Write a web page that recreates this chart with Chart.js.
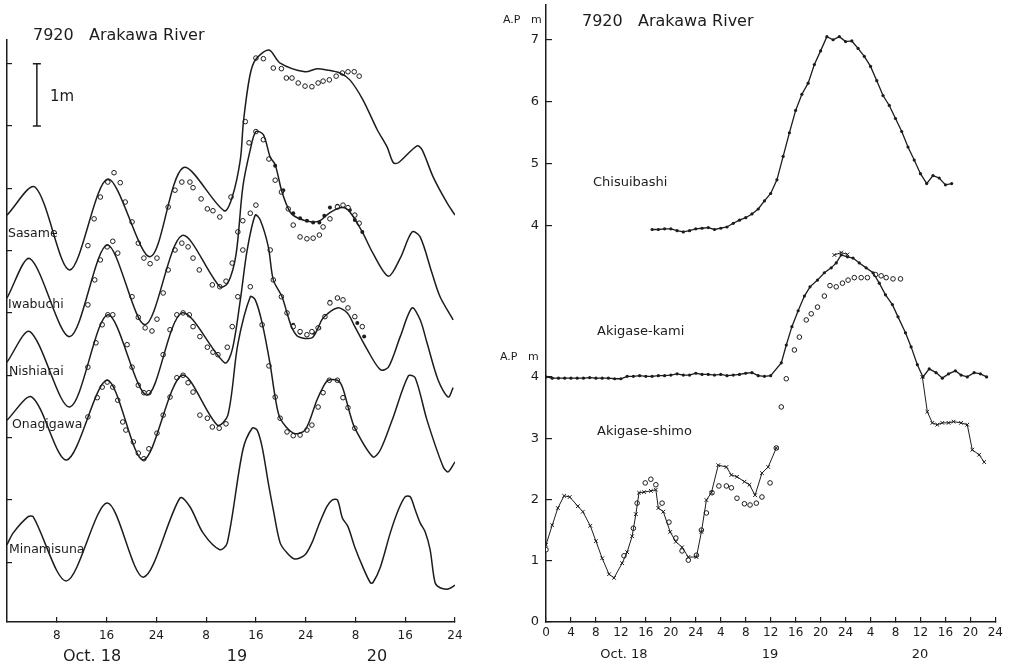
<!DOCTYPE html>
<html>
<head>
<meta charset="utf-8">
<script src="https://cdn.jsdelivr.net/npm/chart.js@4"></script>
<style>
  body { margin: 0; background: #fff; }
  canvas { position: absolute; top: 0; }
  #left { left: 0; }
  #right { left: 490px; }
</style>
</head>
<body>
<canvas id="left" width="480" height="666"></canvas>
<canvas id="right" width="522" height="666"></canvas>
<script>
// ---- left panel: hours from Oct.18 0h, relative stage in m ----
const sasameH = [0, 4.5, 10.1, 16.2, 23, 28.3, 34.9, 36.2, 37.5, 38, 39, 39.9, 42.1, 43.9, 47.9, 49.8, 51.4, 53.5, 55.1, 57.2, 59.5, 61.1, 62.1, 62.9, 65.9, 66.7, 68.5, 70.7, 72];
const sasameLine = [6.57, 7.02, 5.69, 7.15, 5.90, 7.33, 6.64, 6.86, 7.46, 8.07, 8.79, 9.06, 9.22, 9.01, 8.87, 8.92, 8.90, 8.85, 8.74, 8.42, 7.94, 7.66, 7.41, 7.41, 7.68, 7.62, 7.18, 6.77, 6.57];
const sasameObsH = [13, 14, 15, 16.2, 17.2, 18.2, 19, 20.1, 21.1, 22, 23, 24.1, 25.9, 27, 28.1, 29.4, 29.9, 31.2, 32.2, 33.1, 34.2, 36, 38.3, 40, 41.2, 42.8, 44.1, 44.9, 45.8, 46.8, 47.9, 49, 50, 50.8, 51.8, 52.9, 53.9, 54.8, 55.8, 56.6];
const sasameObs = [6.08, 6.51, 6.86, 7.10, 7.25, 7.09, 6.78, 6.46, 6.12, 5.88, 5.79, 5.88, 6.70, 6.97, 7.10, 7.10, 7.01, 6.83, 6.67, 6.64, 6.54, 6.86, 8.07, 9.09, 9.08, 8.93, 8.92, 8.77, 8.77, 8.69, 8.64, 8.63, 8.69, 8.72, 8.74, 8.80, 8.85, 8.87, 8.87, 8.80];

const iwabuchiH = [0, 3.7, 10.1, 16.1, 22.2, 28.1, 34.2, 35.5, 36.8, 37.9, 39.1, 40, 41.2, 42.3, 43.1, 44.2, 45.5, 46.8, 49, 50.3, 51.9, 53.9, 55.1, 57.1, 58.8, 61.3, 63.2, 65.1, 66.4, 68.3, 69.6, 71.7];
const iwabuchiLine = [5.24, 5.87, 4.62, 6.09, 4.81, 6.24, 5.42, 5.48, 5.93, 7.02, 7.62, 7.91, 7.86, 7.50, 7.38, 6.94, 6.62, 6.52, 6.46, 6.48, 6.61, 6.69, 6.62, 6.30, 5.96, 5.59, 5.88, 6.30, 6.22, 5.64, 5.26, 4.89];
const iwabuchiObsH = [13, 14.1, 15, 16.1, 17, 17.8, 20.1, 21.1, 22.2, 23.3, 24.1, 25.1, 25.9, 27, 28.1, 29.1, 29.9, 30.9, 33, 34.2, 35.2, 36.2, 37.1, 37.9, 38.9, 40, 41.2, 42.1, 43.1, 44.1, 45.2, 46, 47.1, 48.2, 49.2, 50.2, 50.8, 51.9, 53.1, 54, 54.8, 55.9, 56.6];
const iwabuchiObs = [5.13, 5.53, 5.85, 6.06, 6.15, 5.96, 5.26, 4.93, 4.76, 4.71, 4.90, 5.32, 5.69, 6.01, 6.12, 6.06, 5.88, 5.69, 5.45, 5.42, 5.51, 5.80, 6.30, 6.48, 7.73, 7.91, 7.78, 7.47, 7.13, 6.94, 6.67, 6.41, 6.22, 6.19, 6.20, 6.25, 6.38, 6.51, 6.70, 6.73, 6.69, 6.57, 6.44];
const iwabuchiDotH = [43.1, 44.4, 46, 47.1, 48.2, 49.2, 50.2, 51, 51.9, 53.1, 54, 55.1, 55.9, 57.1];
const iwabuchiDot = [7.36, 6.97, 6.60, 6.52, 6.48, 6.45, 6.45, 6.56, 6.69, 6.72, 6.73, 6.65, 6.49, 6.30];

const nishiaraiH = [0, 3.7, 10.1, 16.2, 22.5, 28.1, 35, 36.2, 37.5, 38.6, 39.9, 40.7, 42, 42.8, 44.2, 45, 45.8, 46.8, 49, 50, 50.8, 53.1, 54.7, 55.9, 57.9, 60, 61.3, 63.2, 65.1, 66.4, 67.5, 69.3, 70.9, 71.7];
const nishiaraiLine = [4.21, 4.70, 3.49, 4.97, 3.68, 5.00, 4.20, 4.41, 5.21, 6.01, 6.57, 6.49, 6.06, 5.53, 5.26, 5.00, 4.76, 4.62, 4.60, 4.76, 4.92, 5.08, 5.00, 4.78, 4.41, 4.09, 4.13, 4.62, 5.08, 4.89, 4.52, 3.92, 3.65, 3.80];
const nishiaraiObsH = [13, 14.3, 15.3, 16.2, 17, 19.3, 20.1, 21.1, 22, 22.8, 25.1, 26.2, 27.3, 28.3, 29.3, 29.9, 31, 32.2, 33.1, 33.9, 35.4, 36.2, 37.1, 37.9, 39.1, 40, 42.3, 42.8, 44.1, 45, 46, 47.1, 48.2, 49, 50, 51.1, 51.9, 53.1, 54, 54.8, 55.9, 57.1];
const nishiaraiObs = [4.13, 4.52, 4.81, 4.97, 4.97, 4.49, 4.13, 3.84, 3.72, 3.72, 4.33, 4.73, 4.97, 5.00, 4.97, 4.78, 4.62, 4.45, 4.37, 4.33, 4.45, 4.78, 5.26, 6.01, 6.60, 6.73, 6.01, 5.53, 5.26, 5.00, 4.78, 4.70, 4.65, 4.70, 4.76, 4.94, 5.16, 5.24, 5.21, 5.08, 4.94, 4.78];
const nishiaraiDotH = [46, 47.1, 48.2, 49.2, 50.2, 51.9, 53.1, 56.3, 57.4];
const nishiaraiDot = [4.81, 4.68, 4.65, 4.68, 4.76, 5.18, 5.24, 4.84, 4.62];

const onagigawaH = [0, 4, 9.6, 16.1, 21.9, 28.1, 33.8, 35.5, 37.1, 39.1, 39.9, 41, 42.3, 43.1, 43.9, 46, 47.9, 49.8, 50.8, 51.6, 53.1, 53.9, 55.1, 55.9, 58.8, 60, 61.9, 64.5, 65.6, 67.5, 70.1, 70.9, 72];
const onagigawaLine = [3.28, 3.65, 2.64, 3.92, 2.64, 4.00, 3.20, 3.36, 4.50, 5.26, 5.21, 4.84, 4.17, 3.65, 3.31, 3.07, 3.12, 3.60, 3.81, 3.92, 3.92, 3.81, 3.39, 3.15, 2.69, 2.80, 3.28, 3.99, 3.96, 3.28, 2.53, 2.45, 2.61];
const onagigawaObsH = [13, 14.5, 15.3, 16.1, 17, 17.8, 18.6, 19.1, 20.3, 21.1, 22, 22.8, 24.1, 25.1, 26.2, 27.3, 28.3, 29.1, 29.9, 31, 32.2, 33, 34.1, 35.2, 39.1, 41, 42.1, 43.1, 43.9, 45, 46, 47.1, 48.2, 49, 50, 50.8, 51.8, 53.1, 54, 54.8, 55.9];
const onagigawaObs = [3.33, 3.64, 3.81, 3.89, 3.81, 3.60, 3.25, 3.12, 2.93, 2.75, 2.66, 2.82, 3.07, 3.36, 3.65, 3.96, 4.00, 3.88, 3.73, 3.36, 3.31, 3.17, 3.15, 3.22, 5.42, 4.81, 4.15, 3.65, 3.31, 3.09, 3.03, 3.04, 3.12, 3.20, 3.49, 3.72, 3.92, 3.92, 3.64, 3.48, 3.15];

const minamisunaH = [0, 1, 3.4, 4.2, 9.6, 16.1, 21.9, 27.8, 29.4, 31.5, 34.2, 35.4, 37.9, 39.4, 40.2, 41, 42, 42.8, 43.9, 45, 46.3, 47.9, 49, 50, 51.4, 52.3, 53.1, 53.9, 54.8, 55.9, 57.2, 58.4, 58.8, 60, 61.6, 62.9, 64, 64.8, 65.6, 66.4, 67.2, 68, 68.8, 69.6, 70.9, 72];
const minamisunaLine = [1.28, 1.47, 1.73, 1.73, 0.70, 1.95, 0.76, 2.03, 1.89, 1.47, 1.20, 1.31, 2.80, 3.15, 3.12, 2.85, 2.27, 1.84, 1.31, 1.15, 1.05, 1.12, 1.31, 1.57, 1.89, 2.00, 2.00, 1.71, 1.57, 1.24, 0.92, 0.67, 0.67, 0.92, 1.47, 1.84, 2.05, 2.05, 1.84, 1.63, 1.49, 1.20, 0.67, 0.59, 0.57, 0.63];

const leftTicks = [8, 16, 24, 32, 40, 48, 56, 64, 72];
const leftLevelTicks = [1, 2, 3, 4, 5, 6, 7, 8, 9];

// ---- right panel: hours from Oct.18 0h, A.P. m ----
const chisuiH = [17, 18, 19, 20, 21, 22, 23, 24, 25, 26, 27, 28, 29, 30, 31, 32, 33, 34, 35, 36, 37, 38, 39, 40, 41, 42, 43, 44, 45, 46, 47, 48, 49, 50, 51, 52, 53, 54, 55, 56, 57, 58, 59, 60, 61, 62, 63, 64, 65];
const chisui = [3.94, 3.94, 3.95, 3.95, 3.92, 3.90, 3.92, 3.95, 3.96, 3.97, 3.94, 3.96, 3.98, 4.04, 4.09, 4.13, 4.19, 4.27, 4.40, 4.52, 4.74, 5.12, 5.50, 5.86, 6.12, 6.30, 6.60, 6.82, 7.05, 7.00, 7.05, 6.97, 6.98, 6.86, 6.73, 6.57, 6.34, 6.10, 5.94, 5.73, 5.52, 5.27, 5.06, 4.84, 4.68, 4.81, 4.77, 4.66, 4.68];

const kamiH = [0, 1, 2, 3, 4, 5, 6, 7, 8, 9, 10, 11, 12, 13, 14, 15, 16, 17, 18, 19, 20, 21, 22, 23, 24, 25, 26, 27, 28, 29, 30, 31, 32, 33, 34, 35, 36, 37.7, 38.5, 39.4, 40.4, 41.4, 42.3, 43.5, 44.6, 45.7, 46.5, 47.3, 48.3, 49.2, 50.2, 51.3, 52.4, 53.4, 54.4, 55.5, 56.4, 57.6, 58.5, 59.5, 60.4, 61.4, 62.5, 63.5, 64.5, 65.6, 66.5, 67.5, 68.6, 69.6, 70.6];
const kami = [4.00, 3.98, 3.98, 3.98, 3.98, 3.98, 3.98, 3.99, 3.98, 3.98, 3.98, 3.97, 3.97, 4.01, 4.01, 4.02, 4.01, 4.01, 4.02, 4.02, 4.03, 4.05, 4.03, 4.03, 4.06, 4.04, 4.04, 4.03, 4.04, 4.02, 4.03, 4.04, 4.06, 4.07, 4.02, 4.01, 4.02, 4.23, 4.52, 4.82, 5.08, 5.32, 5.47, 5.58, 5.70, 5.78, 5.86, 5.99, 5.96, 5.94, 5.86, 5.78, 5.70, 5.53, 5.34, 5.18, 4.98, 4.72, 4.49, 4.20, 4.00, 4.13, 4.07, 3.98, 4.05, 4.10, 4.03, 4.00, 4.07, 4.05, 4.00];
const kamiObsH = [37.7, 38.5, 39.8, 40.6, 41.7, 42.5, 43.5, 44.6, 45.5, 46.5, 47.5, 48.4, 49.4, 50.5, 51.5, 52.8, 53.7, 54.5, 55.6, 56.8];
const kamiObs = [3.51, 3.97, 4.44, 4.65, 4.93, 5.03, 5.14, 5.32, 5.49, 5.47, 5.53, 5.58, 5.62, 5.62, 5.62, 5.67, 5.65, 5.62, 5.60, 5.60];

const shimoH = [0, 1, 1.9, 2.9, 3.8, 5.1, 5.9, 7.1, 8, 9, 10.1, 10.9, 12.2, 13, 13.8, 14.4, 14.9, 15.7, 16.8, 17.6, 18, 18.8, 19.9, 20.8, 21.8, 22.8, 24.1, 24.9, 25.7, 26.5, 27.6, 28.9, 29.7, 30.6, 31.8, 32.6, 33.5, 34.6, 35.6, 36.9, 42, 46.2, 47.3, 48.3, 54, 60.3, 61.1, 61.9, 62.7, 63.5, 64.5, 65.3, 66.5, 67.5, 68.3, 69.4, 70.2];
const shimo = [1.26, 1.58, 1.86, 2.06, 2.04, 1.89, 1.80, 1.57, 1.32, 1.04, 0.78, 0.72, 0.96, 1.14, 1.40, 1.76, 2.11, 2.12, 2.14, 2.16, 1.86, 1.80, 1.47, 1.31, 1.22, 1.06, 1.06, 1.47, 1.99, 2.11, 2.56, 2.53, 2.40, 2.37, 2.29, 2.24, 2.07, 2.43, 2.53, 2.84, null, 5.99, 6.03, 6.00, null, 4.00, 3.43, 3.25, 3.22, 3.25, 3.25, 3.27, 3.25, 3.22, 2.81, 2.73, 2.61];
const shimoObsH = [0, 12.5, 14, 14.6, 15.9, 16.8, 17.6, 18.6, 19.7, 20.8, 21.8, 22.8, 24.1, 24.9, 25.7, 26.6, 27.7, 28.9, 29.7, 30.6, 31.8, 32.7, 33.7, 34.6, 35.9, 36.9];
const shimoObs = [1.18, 1.08, 1.53, 1.94, 2.27, 2.33, 2.24, 1.94, 1.63, 1.37, 1.16, 1.01, 1.09, 1.50, 1.78, 2.11, 2.22, 2.22, 2.19, 2.02, 1.93, 1.91, 1.94, 2.04, 2.27, 2.84];

const rightTicks = [0, 4, 8, 12, 16, 20, 24, 28, 32, 36, 40, 44, 48, 52, 56, 60, 64, 68, 72];
const lowerLevelTicks = [0, 1, 2, 3, 4];
const upperLevelTicks = [4, 5, 6, 7];

// ---- helpers ----
const FONT = '"DejaVu Sans", sans-serif';
const INK = '#1c1c1c';
const pts = (xs, ys) => xs.map((x, i) => ({ x: x, y: ys[i] }));
const hourLabel = v => (v === 0 ? '0' : String(v % 24 === 0 ? 24 : v % 24));

function lineSet(xs, ys, extra) {
  return Object.assign({
    data: pts(xs, ys), showLine: true, borderColor: INK, borderWidth: 1.5,
    pointRadius: 0, tension: 0.3
  }, extra || {});
}
function openSet(xs, ys) {
  return { data: pts(xs, ys), showLine: false, pointRadius: 2.3, pointBorderWidth: 1,
    pointBorderColor: INK, pointBackgroundColor: '#fff' };
}
function dotSet(xs, ys) {
  return { data: pts(xs, ys), showLine: false, pointRadius: 2, pointBorderWidth: 0,
    pointBackgroundColor: INK };
}

const notesPlugin = {
  id: 'notes',
  afterDraw(chart, args, opts) {
    const ctx = chart.ctx;
    ctx.save();
    ctx.fillStyle = INK;
    ctx.textBaseline = 'middle';
    (opts.items || []).forEach(t => {
      ctx.font = t.size + 'px ' + FONT;
      ctx.textAlign = t.align || 'left';
      ctx.fillText(t.text, t.left, t.top);
    });
    if (opts.bar) {
      const x = chart.scales.x.getPixelForValue(opts.bar.at);
      const y1 = chart.scales.y.getPixelForValue(opts.bar.from);
      const y2 = chart.scales.y.getPixelForValue(opts.bar.to);
      ctx.strokeStyle = INK;
      ctx.lineWidth = 1.5;
      ctx.beginPath();
      ctx.moveTo(x, y1); ctx.lineTo(x, y2);
      ctx.moveTo(x - 4, y1); ctx.lineTo(x + 4, y1);
      ctx.moveTo(x - 4, y2); ctx.lineTo(x + 4, y2);
      ctx.stroke();
    }
    ctx.restore();
  }
};

const axisGrid = { drawOnChartArea: false, drawTicks: true, tickLength: -5, color: INK, lineWidth: 1.2 };
const axisBorder = { color: INK, width: 1.5 };

// ---- left chart ----
new Chart(document.getElementById('left'), {
  type: 'scatter',
  data: {
    datasets: [
      lineSet(sasameH, sasameLine), openSet(sasameObsH, sasameObs),
      lineSet(iwabuchiH, iwabuchiLine), openSet(iwabuchiObsH, iwabuchiObs), dotSet(iwabuchiDotH, iwabuchiDot),
      lineSet(nishiaraiH, nishiaraiLine), openSet(nishiaraiObsH, nishiaraiObs), dotSet(nishiaraiDotH, nishiaraiDot),
      lineSet(onagigawaH, onagigawaLine), openSet(onagigawaObsH, onagigawaObs),
      lineSet(minamisunaH, minamisunaLine)
    ]
  },
  plugins: [notesPlugin],
  options: {
    responsive: false, animation: false, events: [],
    layout: { padding: { top: 40, right: 25, bottom: 0, left: 0 } },
    plugins: {
      legend: { display: false }, tooltip: { enabled: false },
      notes: {
        bar: { at: 4.8, from: 9, to: 8 },
        items: [
          { text: '7920   Arakawa River', left: 33, top: 36, size: 16 },
          { text: '1m', left: 50, top: 97, size: 15 },
          { text: 'Sasame', left: 8, top: 234, size: 12.5 },
          { text: 'Iwabuchi', left: 8, top: 305, size: 12.5 },
          { text: 'Nishiarai', left: 9, top: 372, size: 12.5 },
          { text: 'Onagigawa', left: 12, top: 425, size: 12.5 },
          { text: 'Minamisuna', left: 9, top: 550, size: 12.5 },
          { text: 'Oct. 18', left: 92, top: 657, size: 16, align: 'center' },
          { text: '19', left: 237, top: 657, size: 16, align: 'center' },
          { text: '20', left: 377, top: 657, size: 16, align: 'center' }
        ]
      }
    },
    scales: {
      x: {
        type: 'linear', min: 0, max: 72,
        afterBuildTicks: s => { s.ticks = leftTicks.map(v => ({ value: v })); },
        afterFit: s => { s.height = 44; },
        ticks: { callback: hourLabel, color: INK, font: { family: FONT, size: 12 }, padding: 12, maxRotation: 0, autoSkip: false },
        grid: axisGrid, border: axisBorder
      },
      y: {
        type: 'linear', min: 0.04, max: 9.38,
        afterBuildTicks: s => { s.ticks = leftLevelTicks.map(v => ({ value: v })); },
        afterFit: s => { s.width = 7; },
        ticks: { display: false },
        grid: axisGrid, border: axisBorder
      }
    }
  }
});

// ---- right chart ----
const yMin = 0, yMax = 10.07, y2Min = -2.39, y2Max = 7.56;
const upperToLower = v => (v - y2Min) / (y2Max - y2Min) * (yMax - yMin) + yMin;
const upperPos = upperLevelTicks.map(upperToLower);

new Chart(document.getElementById('right'), {
  type: 'scatter',
  data: {
    datasets: [
      lineSet(chisuiH, chisui, { yAxisID: 'y2', tension: 0, borderWidth: 1.3,
        pointRadius: 1.6, pointBackgroundColor: INK, pointBorderWidth: 0 }),
      lineSet(kamiH, kami, { tension: 0, borderWidth: 1.3,
        pointRadius: 1.6, pointBackgroundColor: INK, pointBorderWidth: 0 }),
      openSet(kamiObsH, kamiObs),
      lineSet(shimoH, shimo, { tension: 0, borderWidth: 1,
        pointRadius: 2.6, pointStyle: 'crossRot', pointBorderColor: INK, pointBorderWidth: 1 }),
      openSet(shimoObsH, shimoObs)
    ]
  },
  plugins: [notesPlugin],
  options: {
    responsive: false, animation: false, events: [],
    layout: { padding: { top: 5, right: 16, bottom: 0, left: 0 } },
    plugins: {
      legend: { display: false }, tooltip: { enabled: false },
      notes: {
        items: [
          { text: 'A.P   m', left: 13, top: 20, size: 11 },
          { text: 'A.P   m', left: 10, top: 357, size: 11 },
          { text: '7920   Arakawa River', left: 92, top: 22, size: 16 },
          { text: 'Chisuibashi', left: 103, top: 183, size: 13 },
          { text: 'Akigase-kami', left: 107, top: 332, size: 13 },
          { text: 'Akigase-shimo', left: 107, top: 432, size: 13 },
          { text: 'Oct. 18', left: 134, top: 655, size: 13, align: 'center' },
          { text: '19', left: 280, top: 655, size: 13, align: 'center' },
          { text: '20', left: 430, top: 655, size: 13, align: 'center' }
        ]
      }
    },
    scales: {
      x: {
        type: 'linear', min: 0, max: 72,
        afterBuildTicks: s => { s.ticks = rightTicks.map(v => ({ value: v })); },
        afterFit: s => { s.height = 44; },
        ticks: { callback: hourLabel, color: INK, font: { family: FONT, size: 12 }, padding: 9, maxRotation: 0, autoSkip: false },
        grid: axisGrid, border: axisBorder
      },
      y: {
        type: 'linear', min: yMin, max: yMax,
        afterBuildTicks: s => {
          s.ticks = lowerLevelTicks.map(v => ({ value: v })).concat(upperPos.map(v => ({ value: v })));
        },
        afterFit: s => { s.width = 56; s.paddingTop = 0; s.paddingBottom = 0; },
        ticks: {
          color: INK, font: { family: FONT, size: 13 }, padding: 13,
          callback: (v, i) => (i < lowerLevelTicks.length ? String(lowerLevelTicks[i]) : String(upperLevelTicks[i - lowerLevelTicks.length]))
        },
        grid: Object.assign({}, axisGrid, { tickLength: -6 }), border: axisBorder
      },
      y2: { type: 'linear', min: y2Min, max: y2Max, display: false }
    }
  }
});
</script>
</body>
</html>
